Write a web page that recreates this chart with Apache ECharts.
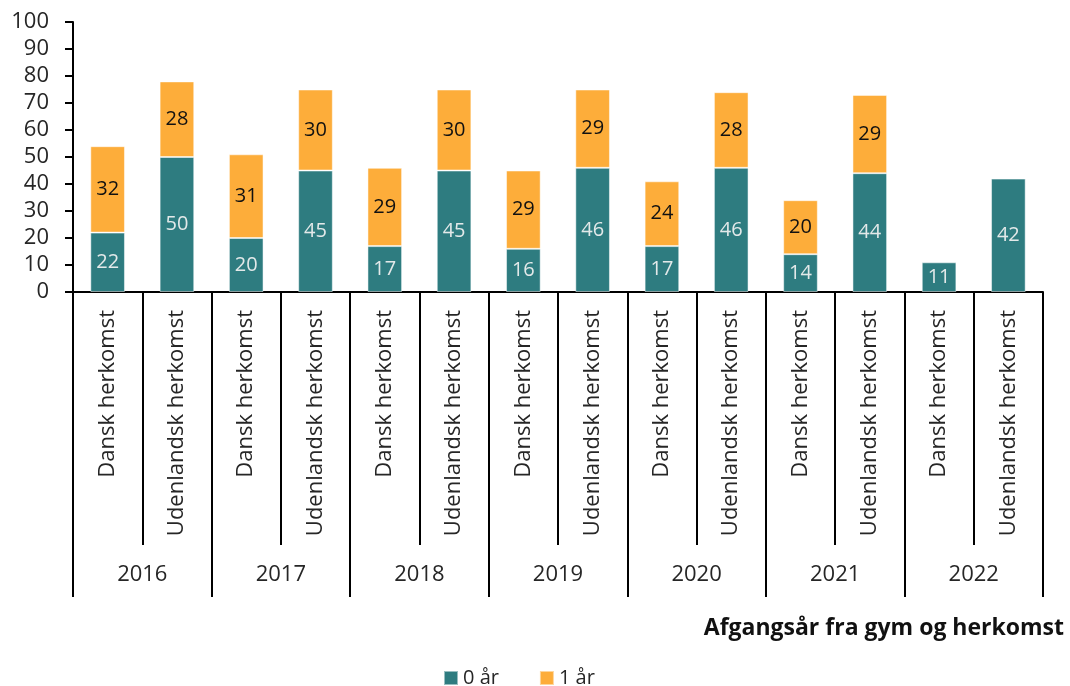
<!DOCTYPE html>
<html>
<head>
<meta charset="utf-8">
<script src="https://cdn.jsdelivr.net/npm/echarts@6/dist/echarts.min.js"></script>
<style>
  html, body { margin: 0; padding: 0; background: #fff; }
  #chart { width: 1070px; height: 686px; }
</style>
</head>
<body>
<div id="chart"></div>
<script>
// kategorier (herkomst) og år
var categories = [
  'Dansk herkomst', 'Udenlandsk herkomst',
  'Dansk herkomst', 'Udenlandsk herkomst',
  'Dansk herkomst', 'Udenlandsk herkomst',
  'Dansk herkomst', 'Udenlandsk herkomst',
  'Dansk herkomst', 'Udenlandsk herkomst',
  'Dansk herkomst', 'Udenlandsk herkomst',
  'Dansk herkomst', 'Udenlandsk herkomst'
];
var years = ['2016', '2017', '2018', '2019', '2020', '2021', '2022'];

// serier
var zeroYear = [22, 50, 20, 45, 17, 45, 16, 46, 17, 46, 14, 44, 11, 42];
var oneYear = [32, 28, 31, 30, 29, 30, 29, 29, 24, 28, 20, 29, null, null];

var yTicks = { min: 0, max: 100, interval: 10 };

var font = 'Open Sans';
var textColor = '#262626';
var teal = '#2E7C80';
var orange = '#FDAD3A';

var chart = echarts.init(document.getElementById('chart'));

var option = {
  textStyle: { fontFamily: font },
  grid: {
    left: 73,
    right: 27,
    top: 22,
    bottom: 394,
    containLabel: false
  },
  legend: {
    left: 443,
    top: 664,
    padding: 0,
    icon: 'rect',
    itemWidth: 14,
    itemHeight: 14,
    itemGap: 40,
    textStyle: { fontFamily: font, fontSize: 20, lineHeight: 28, color: textColor },
    data: ['0 år', '1 år']
  },
  xAxis: [{
    type: 'category',
    data: categories,
    position: 'bottom',
    name: 'Afgangsår fra gym og herkomst',
    nameLocation: 'end',
    nameGap: 0,
    nameTextStyle: {
      fontFamily: font,
      fontWeight: 'bold',
      fontSize: 23,
      color: '#111',
      align: 'right',
      verticalAlign: 'top',
      padding: [325, -21, 0, 0]
    },
    axisLine: { show: true, lineStyle: { color: '#000', width: 2 } },
    axisTick: { show: true, interval: 0, length: 253, lineStyle: { color: '#000', width: 2 } },
    axisLabel: {
      interval: 0,
      rotate: 90,
      margin: 18,
      fontSize: 22,
      fontFamily: font,
      color: textColor
    }
  }, {
    type: 'category',
    data: years,
    position: 'bottom',
    axisLine: { show: false },
    axisTick: { show: true, interval: 0, length: 305, lineStyle: { color: '#000', width: 2 } },
    axisLabel: {
      interval: 0,
      margin: 272,
      fontSize: 22,
      fontFamily: font,
      color: textColor
    }
  }],
  yAxis: {
    type: 'value',
    min: yTicks.min,
    max: yTicks.max,
    interval: yTicks.interval,
    splitLine: { show: false },
    axisLine: { show: true, lineStyle: { color: '#000', width: 2 } },
    axisTick: { show: true, length: 8, lineStyle: { color: '#000', width: 2 } },
    axisLabel: { margin: 24, fontSize: 22, fontFamily: font, color: textColor }
  },
  series: [{
    name: '0 år',
    type: 'bar',
    stack: 'total',
    xAxisIndex: 0,
    barWidth: '50%',
    data: zeroYear,
    itemStyle: { color: teal, borderColor: 'rgba(255,255,255,0.5)', borderWidth: 1 },
    label: {
      show: true,
      position: 'inside',
      fontSize: 20,
      fontFamily: font,
      color: '#E3E9E9'
    }
  }, {
    name: '1 år',
    type: 'bar',
    stack: 'total',
    xAxisIndex: 0,
    barWidth: '50%',
    data: oneYear,
    itemStyle: { color: orange, borderColor: 'rgba(255,255,255,0.5)', borderWidth: 1 },
    label: {
      show: true,
      position: 'inside',
      fontSize: 20,
      fontFamily: font,
      color: '#111'
    }
  }]
};

chart.setOption(option);
</script>
</body>
</html>
